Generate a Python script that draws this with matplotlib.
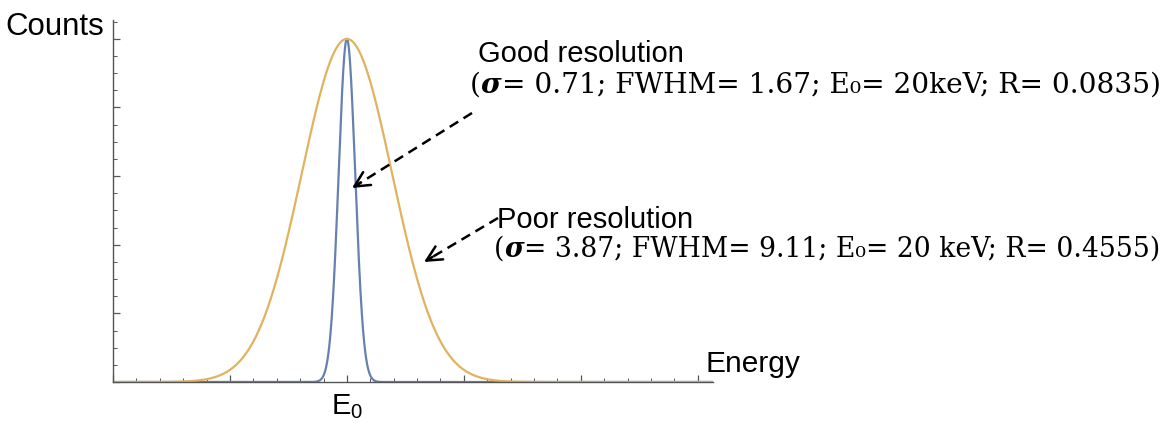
import numpy as np
import matplotlib
matplotlib.use("Agg")
import matplotlib.pyplot as plt
from matplotlib.transforms import IdentityTransform
from matplotlib.ticker import MultipleLocator

plt.rcParams['font.family'] = ['Liberation Sans', 'DejaVu Sans']
plt.rcParams['mathtext.fontset'] = 'custom'
plt.rcParams['mathtext.rm'] = 'Liberation Sans'

# peak parameters (keV)
E0 = 20.0
sigmas = [0.71, 3.87]
fwhm = [1.67, 9.11]
resol = [0.0835, 0.4555]
names = ['Good resolution', 'Poor resolution']
colors = ['#6681b0', '#e0b35e']

def gauss(x, x0, s):
    return np.exp(-(x - x0)**2 / (2 * s**2))

W, H = 1166, 425
fig = plt.figure(figsize=(W / 100, H / 100), dpi=100)
ax = fig.add_axes([113 / W, 43 / H, 600 / W, 362 / H])

x = np.linspace(0, 51.3, 3000)
for s, c in zip(sigmas, colors):
    ax.plot(x, gauss(x, E0, s), color=c, lw=1.6)

ax.set_xlim(0, 51.3)
ax.set_ylim(0, 1.055)
for sp in ['top', 'right']:
    ax.spines[sp].set_visible(False)
for sp in ['left', 'bottom']:
    ax.spines[sp].set_color('#555555')
    ax.spines[sp].set_linewidth(1.0)
ax.xaxis.set_major_locator(MultipleLocator(10))
ax.xaxis.set_minor_locator(MultipleLocator(2))
ax.yaxis.set_major_locator(MultipleLocator(0.2))
ax.yaxis.set_minor_locator(MultipleLocator(0.05))
ax.tick_params(which='both', direction='in', color='#555555', labelleft=False, labelbottom=False)
ax.tick_params(which='major', length=5, width=0.9)
ax.tick_params(which='minor', length=3, width=0.7)

ax.text(E0, -0.028, r'E$_\mathregular{0}$', ha='center', va='top', fontsize=21,
        transform=ax.get_xaxis_transform())

px = IdentityTransform()
fig.text(5, H - 35, 'Counts', fontsize=22.5, transform=px, va='baseline')
fig.text(705, H - 372, 'Energy', fontsize=21.5, transform=px, va='baseline')

fig.canvas.draw()
rend = fig.canvas.get_renderer()

def row(x0, y0, pieces, size):
    # lay text pieces one after another on a common baseline
    xx = x0
    for s, kw in pieces:
        t = fig.text(xx, y0, s, transform=px, va='baseline', fontsize=size,
                     family=['DejaVu Serif'], **kw)
        xx = t.get_window_extent(rend).x1

spaced = ['', ' ']
label_pos = [(478, 62, 470, 93), (497, 228, 494, 257)]
sizes = [20.2, 19.2]
for i in range(2):
    lx, ly, rx, ry = label_pos[i]
    fig.text(lx, H - ly, names[i], fontsize=21, transform=px, va='baseline')
    rest = '= {}; FWHM= {}; E\u2080= {:g}{}keV; R= {})'.format(
        sigmas[i], fwhm[i], E0, spaced[i], resol[i])
    row(rx, H - ry, [('(', {}), ('\u03c3', dict(weight='bold', style='italic')),
                     (rest, {})], sizes[i])

# dashed pointers from labels to the peaks
arrows = [((472, 113), (352, 188)), ((498, 218), (424, 262))]
for (tx, ty), (hx, hy) in arrows:
    dx, dy = tx - hx, ty - hy
    n = np.hypot(dx, dy)
    fig.add_artist(plt.Line2D([tx, hx + 3 * dx / n], [H - ty, H - hy - 3 * dy / n],
                              transform=px, color='black', lw=1.8, ls=(0, (4, 2.5))))
    ax.annotate('', xy=(hx, H - hy), xycoords='figure pixels',
                xytext=(hx + 10 * dx / n, H - hy - 10 * dy / n), textcoords='figure pixels',
                arrowprops=dict(arrowstyle='->,head_length=0.6,head_width=0.3',
                                color='black', lw=1.8, mutation_scale=18,
                                shrinkA=0, shrinkB=0))

fig.savefig('out.png', dpi=100)
